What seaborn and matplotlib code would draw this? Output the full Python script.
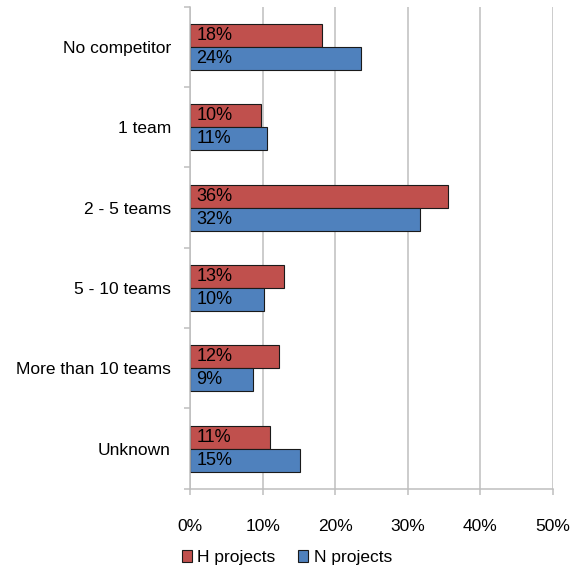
import matplotlib
matplotlib.use("Agg")
import pandas as pd
import numpy as np
import matplotlib.pyplot as plt
import matplotlib.ticker as mticker
from matplotlib.patches import Patch
import seaborn as sns

sns.set_theme(style="white")
plt.rcParams["font.family"] = ["Liberation Sans", "DejaVu Sans"]
plt.rcParams["text.color"] = "black"
plt.rcParams["xtick.labelcolor"] = "black"
plt.rcParams["ytick.labelcolor"] = "black"

categories = ["No competitor", "1 team", "2 - 5 teams", "5 - 10 teams",
              "More than 10 teams", "Unknown"]
h_projects = [18.1, 9.8, 35.5, 12.9, 12.2, 11.0]
n_projects = [23.6, 10.6, 31.7, 10.2, 8.6, 15.1]
h_labels = ["18%", "10%", "36%", "13%", "12%", "11%"]
n_labels = ["24%", "11%", "32%", "10%", "9%", "15%"]
series = ["H projects", "N projects"]
colors = ["#C0504D", "#4F81BD"]

df = pd.DataFrame({
    "category": categories * 2,
    "value": h_projects + n_projects,
    "series": [series[0]] * len(categories) + [series[1]] * len(categories),
})

fig = plt.figure(figsize=(5.77, 5.69), dpi=100)
ax = fig.add_axes([0.330, 0.141, 0.628, 0.847])

sns.barplot(data=df, y="category", x="value", hue="series", order=categories,
            hue_order=series, palette=colors, orient="h", width=0.57, saturation=1,
            edgecolor="#1a1a1a", linewidth=0.8, legend=False, ax=ax)

# labels inside bars, left aligned
for i, cat in enumerate(categories):
    ax.text(0.8, i - 0.1425, h_labels[i], va="center", ha="left", fontsize=13, color="black")
    ax.text(0.8, i + 0.1425, n_labels[i], va="center", ha="left", fontsize=13, color="black")

grid_c = "#BEBEBE"
ax.set_xlim(0, 50)
ax.set_ylim(len(categories) - 0.5, -0.5)
ax.xaxis.set_major_locator(mticker.MultipleLocator(10))
ax.xaxis.set_major_formatter(mticker.FuncFormatter(lambda v, p: f"{v:.0f}%"))
ax.grid(axis="x", color=grid_c, linewidth=1.1)
ax.set_axisbelow(True)

# category labels at centers, tick marks at boundaries
ax.set_yticks(np.arange(len(categories)))
ax.set_yticklabels(categories)
ax.set_yticks(np.arange(len(categories) + 1) - 0.5, minor=True)
ax.tick_params(axis="y", which="major", length=0, pad=14, labelsize=12.5, labelcolor="black")
ax.tick_params(axis="y", which="minor", length=4, width=1.1, color=grid_c, direction="out", left=True)
ax.tick_params(axis="x", which="major", length=4.5, width=1.1, color=grid_c, direction="out",
               bottom=True, pad=17, labelsize=12.5, labelcolor="black")
ax.set_xlabel("")
ax.set_ylabel("")

for side in ["top", "right"]:
    ax.spines[side].set_visible(False)
for side in ["left", "bottom"]:
    ax.spines[side].set_color(grid_c)
    ax.spines[side].set_linewidth(1.1)

handles = [Patch(facecolor=c, edgecolor="#1a1a1a", linewidth=0.8) for c in colors]
fig.legend(handles, series, loc="center", bbox_to_anchor=(0.497, 0.02), ncol=2, frameon=False,
           fontsize=12.5, handlelength=0.6, handleheight=0.6, handletextpad=0.3,
           columnspacing=1.3, borderaxespad=0, labelcolor="black")

fig.savefig("out.png", dpi=100)
